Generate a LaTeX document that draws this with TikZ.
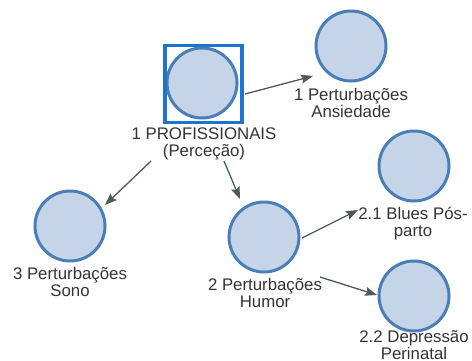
\documentclass[tikz,border=0pt]{standalone}
\usepackage{fontspec}
\setmainfont{Liberation Sans}
\usetikzlibrary{arrows.meta,calc}
\definecolor{vfill}{HTML}{C6D4E8}
\definecolor{vedge}{HTML}{4A7EB6}
\definecolor{selblue}{HTML}{1C74CE}
\definecolor{linkgray}{HTML}{4B5A5A}
\definecolor{labelgray}{HTML}{333333}
\begin{document}
\begin{tikzpicture}[x=1pt,y=-1pt,
  vertex/.style={circle,fill=vfill,draw=vedge,line width=3pt,minimum size=70pt,inner sep=0pt},
  vlabel/.style={align=center,font=\fontsize{16.8}{16.5}\selectfont,text=labelgray,inner sep=0pt,anchor=base},
  link/.style={draw=linkgray,line width=1.3pt,-{Stealth[length=12pt,width=9pt,inset=2pt]}},
  selection/.style={rectangle,draw=selblue,line width=3.5pt,minimum size=77pt,inner sep=0pt}]
  \useasboundingbox (0,0) rectangle (472,360);

  % vertices
  \node[vertex] (P) at (202,83) {};
  \node[selection] (sel) at (203.5,84) {};
  \node[vertex] (A) at (351,46) {};
  \node[vertex] (S) at (70,226) {};
  \node[vertex] (H) at (264,237) {};
  \node[vertex] (B) at (414,166) {};
  \node[vertex] (D) at (414,296) {};

  % vertex labels (anchored at the baseline of the last line)
  \node[vlabel] (Pl) at (204,156) {1 PROFISSIONAIS\\(Perceção)};
  \node[vlabel] (Al) at (351,117) {1 Perturbações\\Ansiedade};
  \node[vlabel] (Sl) at (70,296) {3 Perturbações\\Sono};
  \node[vlabel] (Hl) at (265,307) {2 Perturbações\\Humor};
  \node[vlabel] (Bl) at (413,236) {2.1 Blues Pós-\\parto};
  \node[vlabel] (Dl) at (414,359) {2.2 Depressão\\Perinatal};

  % edge end points
  \coordinate (PA0) at ($(P)+(43,11)$);
  \coordinate (PA1) at ($(A)+(-38,30)$);
  \coordinate (PS0) at ($(P)+(-51,78)$);
  \coordinate (PS1) at ($(S)+(35,-21)$);
  \coordinate (PH0) at ($(P)+(22,78)$);
  \coordinate (PH1) at ($(H)+(-24,-38)$);
  \coordinate (HB0) at ($(H)+(38,1)$);
  \coordinate (HB1) at ($(B)+(-56,44)$);
  \coordinate (HD0) at ($(H)+(56,40)$);
  \coordinate (HD1) at ($(D)+(-37,-1)$);

  % edges
  \draw[link] (PA0) -- (PA1);
  \draw[link] (PS0) -- (PS1);
  \draw[link] (PH0) -- (PH1);
  \draw[link] (HB0) -- (HB1);
  \draw[link] (HD0) -- (HD1);
\end{tikzpicture}
\end{document}
